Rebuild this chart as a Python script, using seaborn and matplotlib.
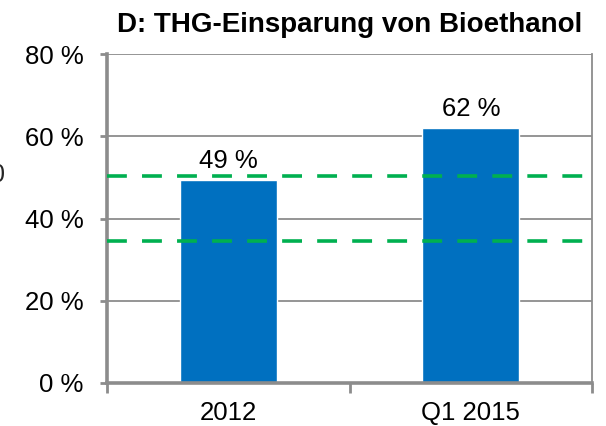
import matplotlib
matplotlib.use("Agg")
import matplotlib.pyplot as plt
import seaborn as sns
import pandas as pd

categories = ["2012", "Q1 2015"]
values = [49.4, 62.0]
value_labels = ["49 %", "62 %"]
threshold_lines = [50.4, 34.5]
yticks = [0, 20, 40, 60, 80]
ytick_labels = ["0 %", "20 %", "40 %", "60 %", "80 %"]
title = "D: THG-Einsparung von Bioethanol"

sns.set_theme(style="white")
plt.rcParams["font.family"] = ["Liberation Sans", "DejaVu Sans"]

BLUE = "#0070C0"
GREEN = "#00B050"
GRAY = "#8C8C8C"

fig = plt.figure(figsize=(6.06, 4.26), dpi=100)
ax = fig.add_axes([107 / 606, 43 / 426, 485 / 606, 329 / 426])

df = pd.DataFrame({"cat": categories, "val": values})
sns.barplot(data=df, x="cat", y="val", color=BLUE, saturation=1, width=0.4,
            ax=ax, zorder=2)

ax.set_xlim(-0.5, 1.5)
ax.set_ylim(0, 80)
ax.set_yticks(yticks)
ax.set_yticklabels(ytick_labels)
ax.set_xlabel("")
ax.set_ylabel("")

for v in yticks[1:]:
    ax.axhline(v, color=GRAY, lw=1.3, zorder=1)
for y in threshold_lines:
    ax.axhline(y, color=GREEN, lw=2.6, ls=(0, (5.5, 4.2)), zorder=3)

for i, (v, lab) in enumerate(zip(values, value_labels)):
    ax.annotate(lab, (i, v), xytext=(0, 5), textcoords="offset points",
                ha="center", va="bottom", fontsize=18.5, color="black")

ax.spines["top"].set_visible(False)
ax.spines["right"].set_color(GRAY)
ax.spines["right"].set_linewidth(1.3)
for s in ["left", "bottom"]:
    ax.spines[s].set_color(GRAY)
    ax.spines[s].set_linewidth(2.6)

ax.tick_params(axis="y", which="major", left=True, length=5, width=2,
               color=GRAY, labelsize=18.5, pad=12, labelcolor="black")
ax.set_xticks([-0.5, 0.5, 1.5], minor=True)
ax.tick_params(axis="x", which="major", length=0, labelsize=18.5, pad=13,
               labelcolor="black")
ax.tick_params(axis="x", which="minor", bottom=True, length=7, width=2,
               color=GRAY)

ax.set_title(title, fontsize=20, fontweight="bold", pad=16, color="black")

fig.text(-2 / 606, 1 - 175 / 426, "0", fontsize=18, ha="center", va="center")

fig.savefig("out.png", dpi=100)
